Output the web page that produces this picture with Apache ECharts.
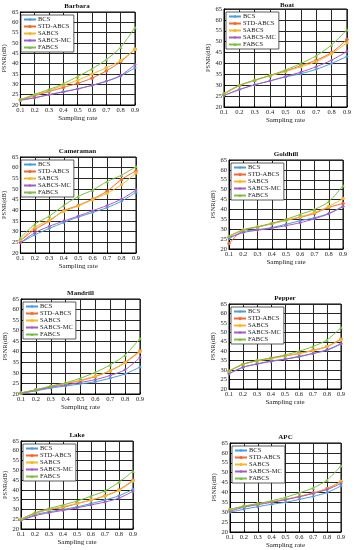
<!DOCTYPE html>
<html><head><meta charset="utf-8">
<script src="https://cdn.jsdelivr.net/npm/echarts@6/dist/echarts.min.js"></script>
<style>html,body{margin:0;padding:0;background:#fff}#c{width:354px;height:550px}</style>
</head><body><div id="c"></div>
<script>
const rates = ['0.1','0.2','0.3','0.4','0.5','0.6','0.7','0.8','0.9'];
const methods = ['BCS','STD-ABCS','SABCS','SABCS-MC','FABCS'];
const yTicks = [20,25,30,35,40,45,50,55,60,65];

const barbaraBCS   = [22.5,23.5,25,26.5,27.8,29.5,31.5,34,38];
const barbaraSTD   = [22.5,24.5,26.5,28.5,30.5,33,36.5,41,47];
const barbaraSA    = [22.5,24.8,27,29.5,32,35,38,41.5,47];
const barbaraSAMC  = [22.3,23.5,25,26.3,27.8,29.5,31.5,34.3,39.5];
const barbaraFA    = [22.5,25.2,27.5,30.3,33.8,37.5,42,48,57.5];

const boatBCS  = [25.3,28,30.2,32,33.8,35.3,37.3,40,43.2];
const boatSTD  = [26,29.8,32.3,34.5,36.5,39,41.5,45,51];
const boatSA   = [26,29.8,32.2,34.3,36.3,38.5,40.8,44.5,49.5];
const boatSAMC = [25.3,28,30.2,32,34,36,38.5,41.5,45.5];
const boatFA   = [26.2,30,32.3,34.5,37,40,43.5,48.5,55.5];

const cameraBCS  = [24.8,28.5,31.5,34.3,36.8,39,41.3,44.3,48.5];
const cameraSTD  = [25.8,31,35,39.8,42.3,45.3,49,54.5,58.5];
const cameraSA   = [26,32,35.5,39.5,42,45,48,52,57.5];
const cameraSAMC = [24.8,29.5,32.5,35,37.3,39.8,42.3,45.3,49.5];
const cameraFA   = [27,33.5,37.3,42.3,46.5,49.5,53.5,56.5,60.5];

const goldBCS  = [25.2,28.8,29.8,30.8,32.5,34.3,35.8,38,41.5];
const goldSTD  = [22.8,29.5,31,32.8,34.5,36,38,41,43];
const goldSA   = [26.3,29.5,31.2,32.8,34.5,36.3,38.5,41.5,45.5];
const goldSAMC = [25.8,28.3,29.5,30.5,31.8,33.3,35.3,37.8,41.5];
const goldFA   = [26.5,29.8,31.3,33,35,37.5,40,44,52];

const mandBCS  = [20.3,21.5,22.8,23.8,24.8,25.8,27.5,29.5,32.8];
const mandSTD  = [20.5,22,23.5,25,26.3,28.3,31,35,40.5];
const mandSA   = [20.5,22,23.5,25,26.5,28.5,31,34.8,40];
const mandSAMC = [20.3,21.8,23.2,24.3,25.5,26.8,28.8,31.5,37.3];
const mandFA   = [20.5,22,23.8,25.3,27.5,30.3,33.8,38.5,46.3];

const pepBCS  = [28.3,31.5,33.3,34.8,35.8,37,38.8,40.5,43.8];
const pepSTD  = [29.5,33,35,36.3,37.5,38.8,40.5,42.5,46.5];
const pepSA   = [29.3,33,34.8,36,37.5,38.8,40.3,42.5,46];
const pepSAMC = [28,31.5,33.2,34.6,35.8,37.3,38.8,40.8,44];
const pepFA   = [29.5,33.2,35,36.5,38,40,42.5,46,52.5];

const lakeBCS  = [24.5,27.3,28.8,30,31.3,33,34.8,37,40.3];
const lakeSTD  = [25,28,30,31,33,34.8,37,40,45];
const lakeSA   = [25,28,30,31.5,33,34.8,36.8,39.8,44.5];
const lakeSAMC = [24.3,26.8,28.3,29.5,30.8,32.3,33.8,35.8,39.3];
const lakeFA   = [25,28.3,30.5,32.3,34.3,36.8,39.5,44,49.5];

const apcBCS  = [30,31.5,32.8,34,35,36.5,38,40,43.3];
const apcSTD  = [31.3,33,34.3,35.3,36.5,38,39.8,42,45.5];
const apcSA   = [31.3,33,34.2,35.3,36.5,38,39.5,41.8,45.5];
const apcSAMC = [30.5,32.5,33.8,35,36.3,37.8,39.5,41.5,44.5];
const apcFA   = [31.5,33,34.3,35.8,37.5,39.8,42.3,46.3,53.5];

const panels = [
  {title:'Barbara',   data:[barbaraBCS,barbaraSTD,barbaraSA,barbaraSAMC,barbaraFA], box:[19,12,116,93]},
  {title:'Boat',      data:[boatBCS,boatSTD,boatSA,boatSAMC,boatFA],                box:[224,9,126,98]},
  {title:'Cameraman', data:[cameraBCS,cameraSTD,cameraSA,cameraSAMC,cameraFA],      box:[19,157,117,96]},
  {title:'Goldhill',  data:[goldBCS,goldSTD,goldSA,goldSAMC,goldFA],                box:[229,160,114,89]},
  {title:'Mandrill',  data:[mandBCS,mandSTD,mandSA,mandSAMC,mandFA],                box:[21,299,119,95]},
  {title:'Pepper',    data:[pepBCS,pepSTD,pepSA,pepSAMC,pepFA],                     box:[229,304,112,85]},
  {title:'Lake',      data:[lakeBCS,lakeSTD,lakeSA,lakeSAMC,lakeFA],                box:[21,441,112,88]},
  {title:'APC',       data:[apcBCS,apcSTD,apcSA,apcSAMC,apcFA],                     box:[230,443,111,90]}
];

const colors = ['#4a9be0','#f26a2e','#f5b82a','#a55cc6','#7cc046'];
const symbols = ['diamond','circle','circle','diamond','triangle'];
const FONT = 'Liberation Serif';

const option = {animation:false, grid:[], xAxis:[], yAxis:[], series:[], title:[], legend:[]};
panels.forEach((p,i)=>{
  const [l,t,w,h] = p.box;
  option.grid.push({left:l, top:t, width:w, height:h, show:true, borderColor:'#000', borderWidth:1, backgroundColor:'#fff'});
  option.xAxis.push({type:'category', gridIndex:i, data:rates, boundaryGap:false,
    axisLine:{show:true, lineStyle:{color:'#000', width:1}}, axisTick:{show:true, inside:true, length:2, lineStyle:{color:'#000'}},
    axisLabel:{fontFamily:FONT, fontSize:6.5, color:'#222', margin:2},
    splitLine:{show:true, lineStyle:{color:'#262626', width:1}},
    name:'Sampling rate', nameLocation:'middle', nameGap:10, nameTextStyle:{fontFamily:FONT, fontSize:7, color:'#222'}});
  option.yAxis.push({type:'value', gridIndex:i, min:20, max:65, interval:5,
    axisLine:{show:true, lineStyle:{color:'#000', width:1}}, axisTick:{show:true, inside:true, length:2, lineStyle:{color:'#000'}},
    axisLabel:{fontFamily:FONT, fontSize:6.5, color:'#222', margin:2},
    splitLine:{show:true, lineStyle:{color:'#262626', width:1}},
    name:'PSNR(dB)', nameLocation:'middle', nameGap:11, nameRotate:90, nameTextStyle:{fontFamily:FONT, fontSize:6.5, color:'#222'}});
  option.title.push({text:p.title, left:l+w/2, top:Math.max(1, t-10), textAlign:'center', padding:0,
    textStyle:{fontFamily:FONT, fontSize:7, fontWeight:'bold', color:'#111', lineHeight:8}});
  methods.forEach((m,k)=>{
    option.series.push({type:'line', name:m, xAxisIndex:i, yAxisIndex:i, data:p.data[k],
      smooth:0.3, symbol:symbols[k], symbolSize:3.5, showAllSymbol:true,
      lineStyle:{color:colors[k], width:1}, itemStyle:{color:colors[k]}, z:2+k});
  });
  option.legend.push({data:methods, orient:'vertical', left:l+2, top:t+3, itemWidth:12, itemHeight:4, itemGap:0,
    padding:[1,3,1,2], backgroundColor:'#fff', borderColor:'#333', borderWidth:0.8,
    textStyle:{fontFamily:FONT, fontSize:6.5, lineHeight:6, color:'#222', padding:[0,0,0,-3]}, selectedMode:false});
});
const chart = echarts.init(document.getElementById('c'), null, {renderer:'canvas'});
chart.setOption(option);
</script></body></html>
